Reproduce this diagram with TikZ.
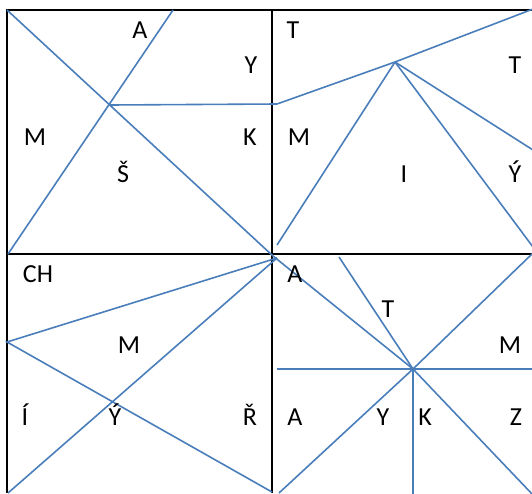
\documentclass[tikz,border=0pt]{standalone}
\usepackage{fontspec}
\setmainfont{Carlito}
\definecolor{lineblue}{RGB}{74,126,187}
\begin{document}
\begin{tikzpicture}[x=1pt,y=-1pt,
  frame/.style={draw=black,line width=2pt},
  cut/.style={draw=lineblue,line width=1.6pt},
  lab/.style={anchor=base,inner sep=0pt,font=\fontsize{26}{30}\selectfont}]
\useasboundingbox (0,0) rectangle (532,493);
\clip (0,0) rectangle (532,493);
% key points
\coordinate (tl) at (7,10);
\coordinate (ctr) at (273,256);
\coordinate (bl1) at (8,254);
\coordinate (tp1) at (173,10);
\coordinate (x1) at (110,105);
\coordinate (e1) at (277,104);
\coordinate (apex) at (395,62);
\coordinate (tr1) at (533,9);
\coordinate (p) at (277,258);
\coordinate (q) at (413,369);
% frame
\draw[frame] (7,493) -- (7,10) -- (533,10);
\draw[frame] (272,10) -- (272,493);
\draw[frame] (7,254) -- (533,254);
% top-left
\draw[cut] (tl) -- (ctr);
\draw[cut] (bl1) -- (tp1);
\draw[cut] (x1) -- (e1);
% top-right
\draw[cut] (e1) -- (apex) -- (tr1);
\draw[cut] (apex) -- (277,245);
\draw[cut] (apex) -- (533,247);
\draw[cut] (apex) -- (533,150);
% bottom-left
\draw[cut] (p) -- (7,342) -- (272,492);
\draw[cut] (p) -- (8,493);
% bottom-right
\draw[cut] (ctr) -- (q);
\draw[cut] (339,257) -- (q);
\draw[cut] (q) -- (533,253);
\draw[cut] (q) -- (533,495);
\draw[cut] (q) -- (279,493);
\draw[cut] (q) -- (413,494);
\draw[cut] (277,369) -- (533,369);
% labels top-left
\node[lab] (l1) at (140,38) {A};
\node[lab] (l2) at (251,73) {Y};
\node[lab] (l3) at (35,145) {M};
\node[lab] (l4) at (250,145) {K};
\node[lab] (l5) at (123,182) {Š};
% labels top-right
\node[lab] (l6) at (293,38) {T};
\node[lab] (l7) at (515,73) {T};
\node[lab] (l8) at (299,145) {M};
\node[lab] (l9) at (404,182) {I};
\node[lab] (l10) at (515,182) {Ý};
% labels bottom-left
\node[lab] (l11) at (38,282) {CH};
\node[lab] (l12) at (129,353) {M};
\node[lab] (l13) at (25,425) {Í};
\node[lab] (l14) at (115,425) {Ý};
\node[lab] (l15) at (250,425) {Ř};
% labels bottom-right
\node[lab] (l16) at (295,282) {A};
\node[lab] (l17) at (388,317) {T};
\node[lab] (l18) at (510,353) {M};
\node[lab] (l19) at (295,425) {A};
\node[lab] (l20) at (383,425) {Y};
\node[lab] (l21) at (425,425) {K};
\node[lab] (l22) at (516,425) {Z};
\end{tikzpicture}
\end{document}
